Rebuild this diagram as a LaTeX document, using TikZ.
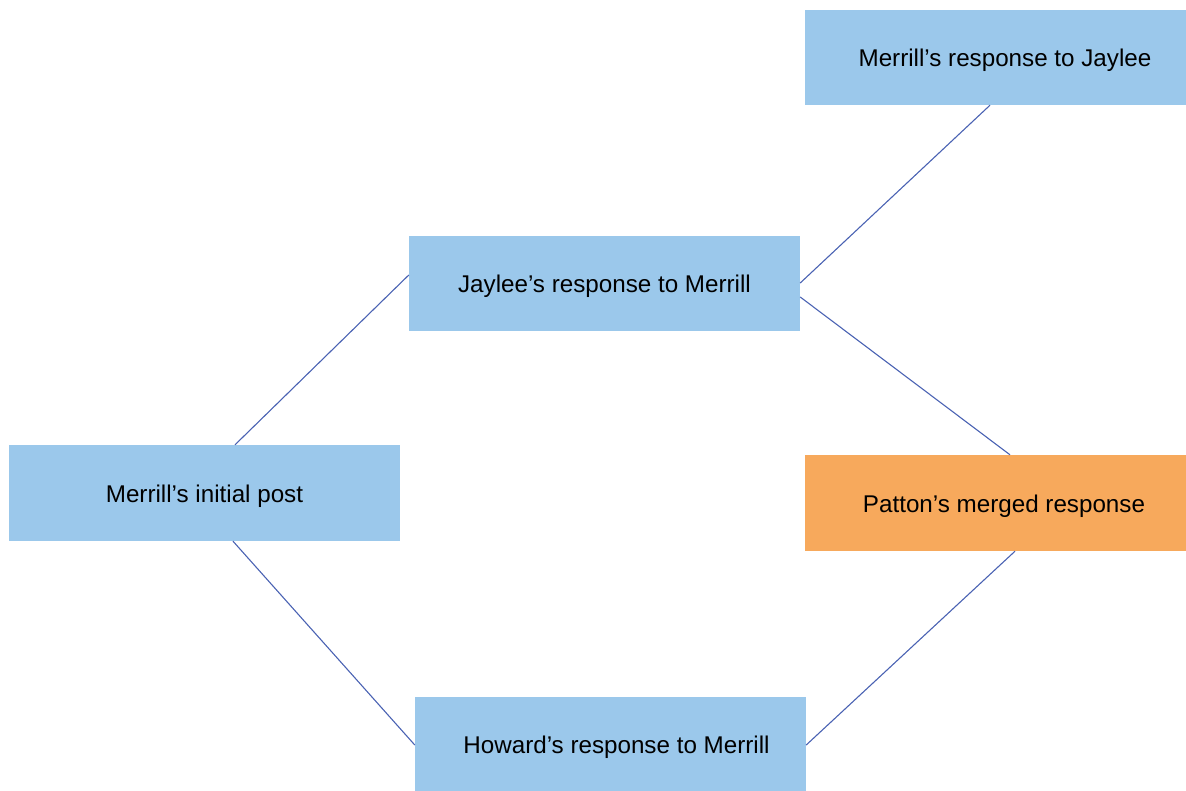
\documentclass[tikz,border=0pt]{standalone}
\usepackage{fontspec}
\setmainfont{Liberation Sans}
\definecolor{boxblue}{HTML}{9BC8EB}
\definecolor{boxorange}{HTML}{F7A95C}
\definecolor{linkblue}{HTML}{4A62B3}
% label text, nudged right by half of #1 and lowered slightly
\newcommand{\postlabel}[2][0pt]{\raisebox{-3pt}[\height][\depth]{\hspace*{#1}#2}}
\tikzset{
  post/.style={fill=boxblue, draw=none, minimum width=391pt, minimum height=95pt,
    inner sep=0pt, font=\fontsize{24.2}{28}\selectfont, text=black},
  merged/.style={post, fill=boxorange},
  link/.style={draw=linkblue, line width=1.1pt}
}
\begin{document}
\begin{tikzpicture}[x=1pt,y=-1pt]
  \useasboundingbox (0,0) rectangle (1186,790);
  \begin{scope}
    \clip (0,0) rectangle (1186,790);
    \node[post, minimum height=96pt] (init) at (204.5,493) {\postlabel{Merrill’s initial post}};
    \node[post] (jay) at (604.5,283.5) {\postlabel{Jaylee’s response to Merrill}};
    \node[post] (mrj) at (1000.5,57.5) {\postlabel[9pt]{Merrill’s response to Jaylee}};
    \node[merged, minimum height=96pt] (pat) at (1000.5,503) {\postlabel[7pt]{Patton’s merged response}};
    \node[post] (how) at (610.5,744.5) {\postlabel[12pt]{Howard’s response to Merrill}};
  \end{scope}
  \draw[link] ([xshift=30.5pt]init.north) -- ([yshift=8.5pt]jay.west);
  \draw[link] ([xshift=28.5pt]init.south) -- ([yshift=-0.5pt]how.west);
  \draw[link] ([yshift=0.5pt]jay.east) -- ([xshift=-10.5pt]mrj.south);
  \draw[link] ([yshift=-13.5pt]jay.east) -- ([xshift=9.5pt]pat.north);
  \draw[link] ([xshift=14.5pt]pat.south) -- ([yshift=-0.5pt]how.east);
\end{tikzpicture}
\end{document}
